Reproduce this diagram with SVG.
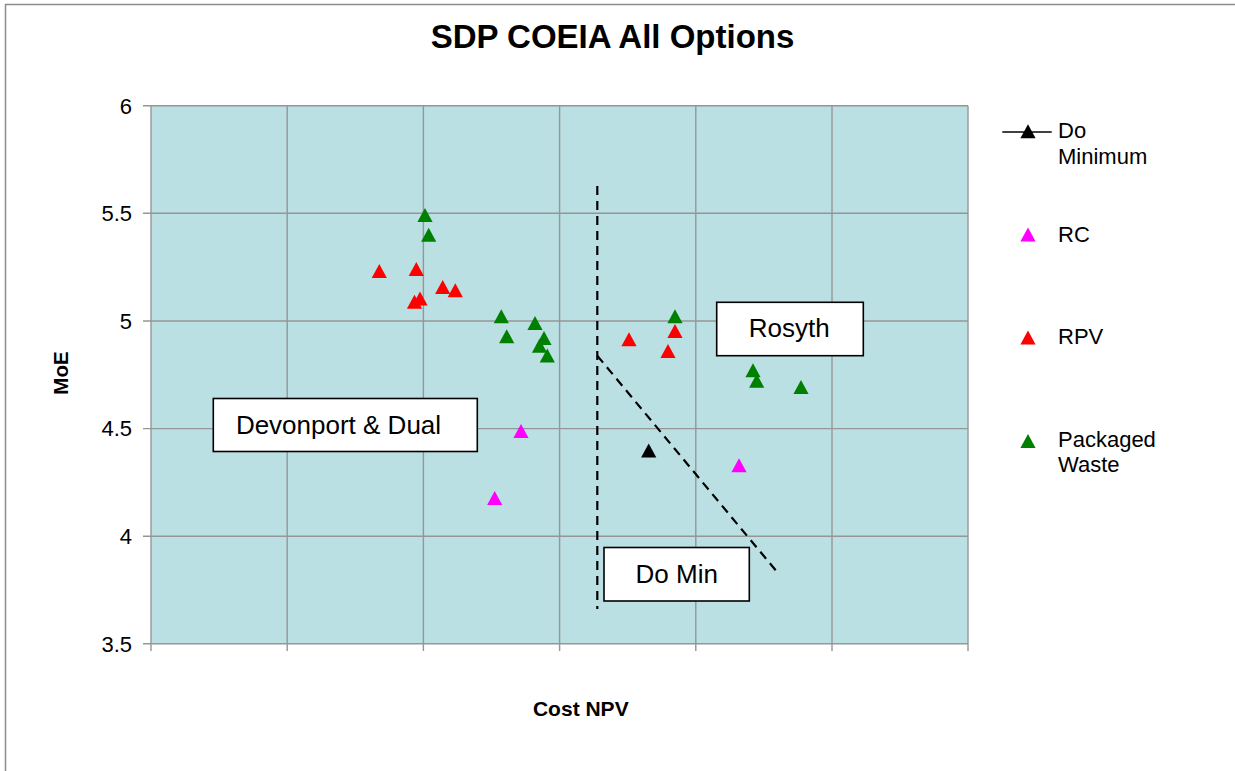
<svg xmlns="http://www.w3.org/2000/svg" width="1235" height="771" viewBox="0 0 1235 771">
<style>
text{font-family:"Liberation Sans",Arial,sans-serif;fill:#000}
.grid{stroke:#969696;stroke-width:1.4;fill:none}
.tick{font-size:22px;text-anchor:end}
.lbl{font-size:26px;text-anchor:middle}
.box{fill:#fff;stroke:#000;stroke-width:1.6}
.dash{stroke:#000;stroke-width:2.2;stroke-dasharray:9 6;fill:none}
.leg{font-size:22px}
.g{fill:#008000}.r{fill:#ff0000}.m{fill:#ff00ff}.k{fill:#000}
</style>
<defs>
<path id="tri" d="M0,-7.3 L7.6,6.8 L-7.6,6.8 Z"/>
</defs>
<rect x="0" y="0" width="1235" height="771" fill="#fff"/>
<rect x="5.5" y="4.5" width="1240" height="780" fill="none" stroke="#8c8c8c" stroke-width="1.5"/>
<text x="612.5" y="47.5" font-size="33" font-weight="bold" text-anchor="middle">SDP COEIA All Options</text>
<g id="plot">
<rect x="151" y="105.7" width="817" height="538.1" fill="#bbe0e3"/>
<g class="grid">
<path d="M151,105.7H968M151,213.3H968M151,321H968M151,428.6H968M151,536.2H968M151,643.8H968"/>
<path d="M151,105.7V643.8M287.2,105.7V643.8M423.4,105.7V643.8M559.6,105.7V643.8M695.8,105.7V643.8M832,105.7V643.8M968,105.7V643.8"/>
<path d="M143,105.7H151M143,213.3H151M143,321H151M143,428.6H151M143,536.2H151M143,643.8H151"/>
<path d="M151,643.8V651M287.2,643.8V651M423.4,643.8V651M559.6,643.8V651M695.8,643.8V651M832,643.8V651M968,643.8V651"/>
</g>
</g>
<g id="yticks">
<text class="tick" x="132" y="113.5">6</text>
<text class="tick" x="132" y="221.1">5.5</text>
<text class="tick" x="132" y="328.8">5</text>
<text class="tick" x="132" y="436.4">4.5</text>
<text class="tick" x="132" y="544">4</text>
<text class="tick" x="132" y="651.6">3.5</text>
</g>
<text x="580.8" y="715.5" font-size="21" font-weight="bold" text-anchor="middle">Cost NPV</text>
<text transform="translate(68.3,373) rotate(-90)" font-size="20.5" font-weight="bold" text-anchor="middle">MoE</text>
<g id="connectors">
<path class="dash" d="M597.3,186V609"/>
<path class="dash" d="M597.3,355.7L777.7,572.7"/>
</g>
<g id="devonport">
<rect class="box" x="213.3" y="398.5" width="264" height="53"/>
<text class="lbl" x="338.5" y="434">Devonport &amp; Dual</text>
</g>
<g id="rosyth">
<rect class="box" x="716.7" y="302.3" width="146.6" height="53.4"/>
<text class="lbl" x="789.3" y="336.7">Rosyth</text>
</g>
<g id="domin">
<rect class="box" x="604" y="547.5" width="145.3" height="53.5"/>
<text class="lbl" x="676.7" y="582.7">Do Min</text>
</g>
<g id="packaged-waste" class="g">
<use href="#tri" x="425" y="215.3"/>
<use href="#tri" x="428.7" y="235"/>
<use href="#tri" x="501.3" y="316.5"/>
<use href="#tri" x="506.7" y="336.5"/>
<use href="#tri" x="535" y="323.2"/>
<use href="#tri" x="544" y="338.2"/>
<use href="#tri" x="539.5" y="346"/>
<use href="#tri" x="547.3" y="355.8"/>
<use href="#tri" x="675" y="316.5"/>
<use href="#tri" x="753" y="370.5"/>
<use href="#tri" x="756.7" y="381"/>
<use href="#tri" x="801" y="387.2"/>
</g>
<g id="rpv" class="r">
<use href="#tri" x="379.3" y="271.2"/>
<use href="#tri" x="416.3" y="269.3"/>
<use href="#tri" x="442.7" y="287.2"/>
<use href="#tri" x="455.3" y="290.5"/>
<use href="#tri" x="420" y="298.8"/>
<use href="#tri" x="414.5" y="302"/>
<use href="#tri" x="675" y="331.2"/>
<use href="#tri" x="629" y="339.5"/>
<use href="#tri" x="668" y="351.2"/>
</g>
<g id="rc" class="m">
<use href="#tri" x="521" y="431.2"/>
<use href="#tri" x="494.7" y="498.2"/>
<use href="#tri" x="739" y="465.5"/>
</g>
<g id="do-minimum" class="k">
<use href="#tri" x="648.7" y="450.7"/>
</g>
<g id="legend">
<path d="M1002.3,132H1051.7" stroke="#000" stroke-width="1.6"/>
<use href="#tri" x="1028" y="131.5" class="k"/>
<text class="leg" x="1058" y="138.3">Do</text>
<text class="leg" x="1058" y="164">Minimum</text>
<use href="#tri" x="1028" y="234.8" class="m"/>
<text class="leg" x="1058" y="241.7">RC</text>
<use href="#tri" x="1028" y="337.8" class="r"/>
<text class="leg" x="1058" y="344.3">RPV</text>
<use href="#tri" x="1028" y="441.2" class="g"/>
<text class="leg" x="1058" y="446.7">Packaged</text>
<text class="leg" x="1058" y="472.3">Waste</text>
</g>
</svg>
